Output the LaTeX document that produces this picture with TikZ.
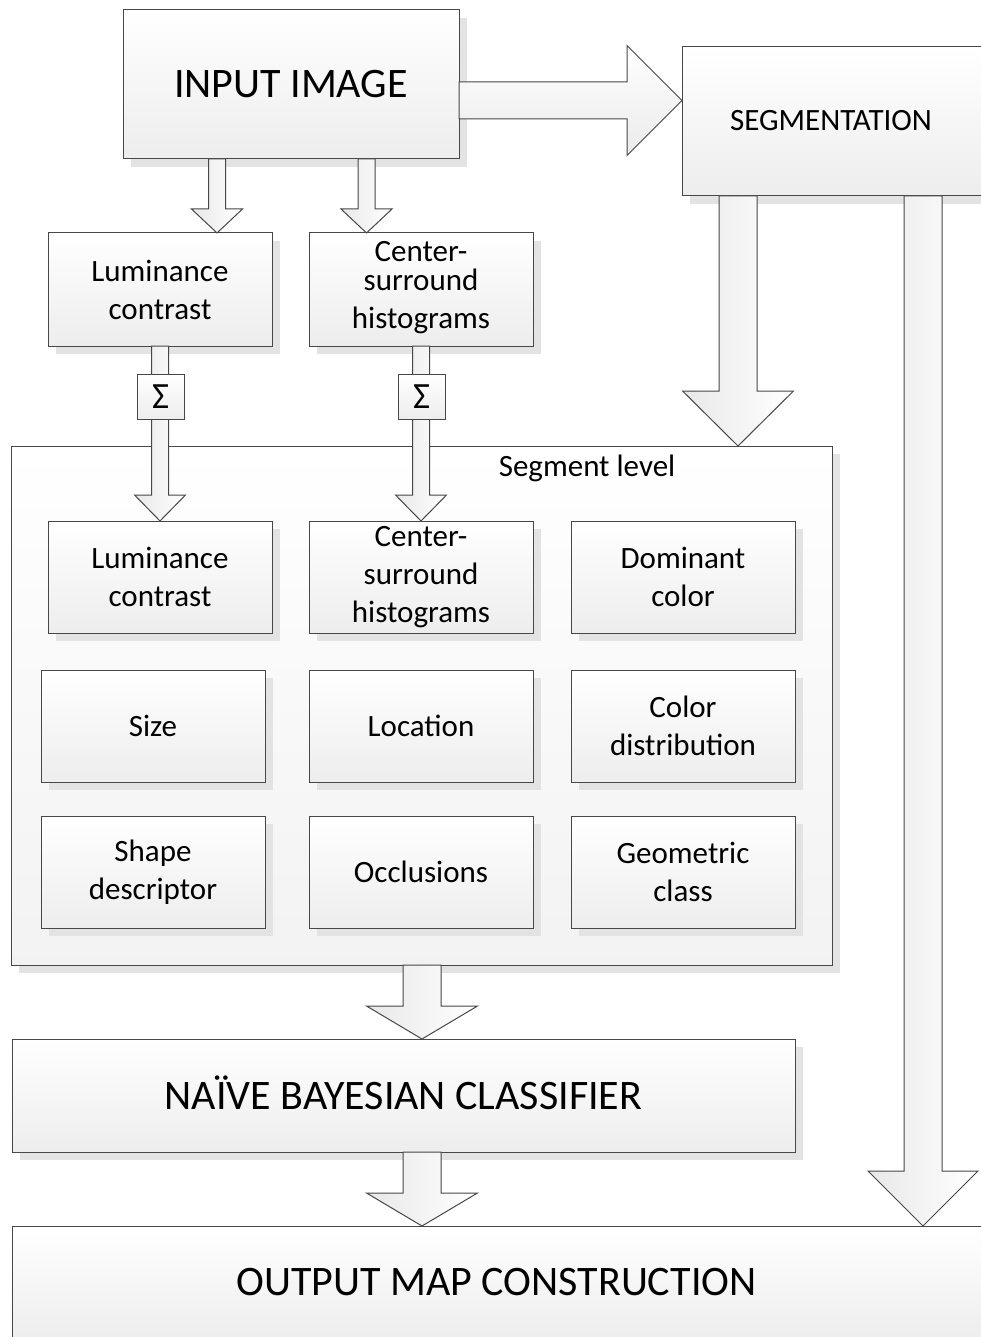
\documentclass[tikz,border=0pt]{standalone}
\usepackage{fontspec}
\setmainfont{Carlito}
\usetikzlibrary{shadows,calc}
\tikzset{
  boxbase/.style={draw=black!72, line width=1pt, top color=white, bottom color=black!7,
    inner sep=0pt, outer sep=0pt, align=center},
  box/.style={boxbase, font=\fontsize{31}{38}\selectfont,
    drop shadow={shadow xshift=8pt, shadow yshift=-8pt, fill=black!11, opacity=1, draw=none}},
  bigbox/.style={box, font=\fontsize{42}{50}\selectfont},
  sigbox/.style={boxbase, font=\fontsize{37}{40}\selectfont, minimum width=47pt, minimum height=45pt},
  lbl/.style={inner sep=0pt, font=\fontsize{31}{38}\selectfont},
  barrow/.style={draw=black!72, line width=1pt, left color=black!9, right color=white},
  harrow/.style={draw=black!72, line width=1pt, top color=white, bottom color=black!8},
}
% down block arrow: [opts]{start}{tip}{shaft half width}{head half width}{head length}
\newcommand\DArrow[6][]{\draw[barrow,#1] let \p1=(#2), \p2=(#3) in
  (\x1-#4,\y1) -- (\x1-#4,\y2+#6) -- (\x1-#5,\y2+#6) -- (\x2,\y2) --
  (\x1+#5,\y2+#6) -- (\x1+#4,\y2+#6) -- (\x1+#4,\y1) -- cycle;}
\newcommand\RArrow[6][]{\draw[harrow,#1] let \p1=(#2), \p2=(#3) in
  (\x1,\y1+#4) -- (\x2-#6,\y1+#4) -- (\x2-#6,\y1+#5) -- (\x2,\y2) --
  (\x2-#6,\y1-#5) -- (\x2-#6,\y1-#4) -- (\x1,\y1-#4) -- cycle;}
\begin{document}
\begin{tikzpicture}[x=1pt,y=-1pt]
\useasboundingbox (0,0) rectangle (980,1337);
% top
\node[bigbox, minimum width=336pt, minimum height=149pt] (input) at (291,84.5) {INPUT IMAGE};
\node[box, minimum width=308pt, minimum height=149pt] (seg) at (836,121.5) {};
\node[lbl] (segt) at (831,121) {SEGMENTATION};
\node[box, minimum width=224pt, minimum height=113pt] (lum1) at (160,289.5) {Luminance\\contrast};
\node[box, minimum width=224pt, minimum height=113pt] (cs1) at (421,289.5) {};
\node[lbl, align=center] (cs1t) at (421,288) {Center-\\[-9pt]surround\\histograms};
% container
\node[box, minimum width=821pt, minimum height=519pt, top color=white, bottom color=black!5] (cont) at (421.5,705.5) {};
\node[lbl] (contlbl) at (587,468) {Segment level};
% grid
\node[box, minimum width=224pt, minimum height=112pt] (lum2) at (160,577) {Luminance\\contrast};
\node[box, minimum width=224pt, minimum height=112pt] (cs2) at (421,577) {Center-\\surround\\histograms};
\node[box, minimum width=224pt, minimum height=112pt] (dom) at (683,577) {Dominant\\color};
\node[box, minimum width=224pt, minimum height=112pt] (size) at (153,726) {Size};
\node[box, minimum width=224pt, minimum height=112pt] (loc) at (421,726) {Location};
\node[box, minimum width=224pt, minimum height=112pt] (cdist) at (683,726) {Color\\distribution};
\node[box, minimum width=224pt, minimum height=112pt] (shape) at (153,872) {Shape\\descriptor};
\node[box, minimum width=224pt, minimum height=112pt] (occ) at (421,872) {Occlusions};
\node[box, minimum width=224pt, minimum height=112pt] (geo) at (683,872) {Geometric\\class};
% bottom
\node[bigbox, minimum width=783pt, minimum height=113pt] (naive) at (403.5,1095.5) {};
\node[inner sep=0pt, font=\fontsize{42}{50}\selectfont] (naivet) at (403.5,1093) {NAÏVE BAYESIAN CLASSIFIER};
\node[box, minimum width=978pt, minimum height=114pt] (output) at (501,1283) {};
\node[inner sep=0pt, font=\fontsize{42}{50}\selectfont] (outputt) at (496.5,1282) {OUTPUT MAP CONSTRUCTION};
% arrows
\RArrow{input.east |- 0,100.5}{seg.west |- 0,100.5}{18.5pt}{55pt}{55pt}
\DArrow{217,0 |- input.south}{217,0 |- lum1.north}{8.5pt}{25.5pt}{24pt}
\DArrow{366.5,0 |- input.south}{366.5,0 |- cs1.north}{8.5pt}{25.5pt}{24pt}
\DArrow{lum1.south}{lum2.north}{8.5pt}{25.5pt}{26pt}
\DArrow{cs1.south}{cs2.north}{8.5pt}{25.5pt}{26pt}
\node[sigbox] (sig1) at (160.5,396.5) {Σ};
\node[sigbox] (sig2) at (421.5,396.5) {Σ};
\DArrow{738,0 |- seg.south}{738,0 |- cont.north}{19pt}{55.5pt}{55pt}
\DArrow{923,0 |- seg.south}{923,0 |- output.north}{19pt}{55pt}{55pt}
\DArrow{422,0 |- cont.south}{422,0 |- naive.north}{19pt}{55.5pt}{33pt}
\DArrow{422,0 |- naive.south}{422,0 |- output.north}{19pt}{55.5pt}{33pt}
\end{tikzpicture}
\end{document}
